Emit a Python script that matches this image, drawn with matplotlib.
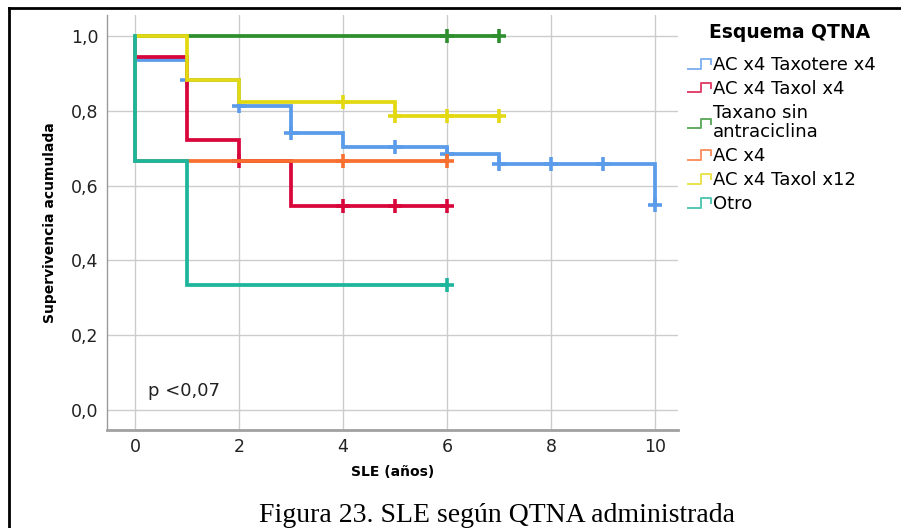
import numpy as np
import matplotlib
matplotlib.use('Agg')
import matplotlib.pyplot as plt
from matplotlib.lines import Line2D
from matplotlib.legend_handler import HandlerBase

plt.rcParams['font.family'] = ['DejaVu Sans']

# Curvas Kaplan-Meier por esquema: tiempos de evento (años) y supervivencia tras cada salto
GRUPOS = ['AC x4 Taxotere x4', 'AC x4 Taxol x4', 'Taxano sin\nantraciclina',
          'AC x4', 'AC x4 Taxol x12', 'Otro']
COLORES = ['#5a9bea', '#d9063c', '#2f8f2f', '#f86f30', '#e3d912', '#1db59c']

t_taxotere = [0, 0, 1, 2, 3, 4, 6, 7, 10]
s_taxotere = [1.0, 0.935, 0.882, 0.812, 0.741, 0.703, 0.684, 0.658, 0.548]
c_taxotere = [1, 2, 3, 5, 6, 7, 8, 9, 10]

t_taxol4 = [0, 0, 1, 2, 3, 6]
s_taxol4 = [1.0, 0.944, 0.722, 0.667, 0.545, 0.545]
c_taxol4 = [2, 4, 5, 6]

t_taxano = [0, 7]
s_taxano = [1.0, 1.0]
c_taxano = [6, 7]

t_ac4 = [0, 0, 6]
s_ac4 = [1.0, 0.667, 0.667]
c_ac4 = [4, 6]

t_taxol12 = [0, 1, 2, 5, 7]
s_taxol12 = [1.0, 0.882, 0.824, 0.786, 0.786]
c_taxol12 = [4, 5, 6, 7]

t_otro = [0, 0, 1, 6]
s_otro = [1.0, 0.667, 0.333, 0.333]
c_otro = [6]

CURVAS = [(t_taxotere, s_taxotere, c_taxotere), (t_taxol4, s_taxol4, c_taxol4),
          (t_taxano, s_taxano, c_taxano), (t_ac4, s_ac4, c_ac4),
          (t_taxol12, s_taxol12, c_taxol12), (t_otro, s_otro, c_otro)]

XTICKS = [0, 2, 4, 6, 8, 10]
YTICKS = [0.0, 0.2, 0.4, 0.6, 0.8, 1.0]


def surv_at(t, s, x):
    idx = np.searchsorted(t, x, side='right') - 1
    return np.asarray(s)[idx]


class StepHandler(HandlerBase):
    # icono de leyenda en forma de escalón, como en SPSS
    def create_artists(self, legend, orig_handle, xdescent, ydescent,
                       width, height, fontsize, trans):
        xs = np.array([0, 0.55, 0.55, 1.0, 1.0]) * width - xdescent
        ys = np.array([0.1, 0.1, 0.85, 0.85, 0.45]) * height - ydescent
        ln = Line2D(xs, ys, color=orig_handle.get_color(), lw=1.4, alpha=0.75,
                    transform=trans)
        return [ln]


fig = plt.figure(figsize=(9.01, 5.28), dpi=100)
ax = fig.add_axes([0.1188, 0.1856, 0.6337, 0.786])

lineas = []
for (t, s, c), col in zip(CURVAS, COLORES):
    ln, = ax.step(t, s, where='post', color=col, lw=2.7, solid_joinstyle='miter')
    ax.plot(c, surv_at(t, s, c), ls='none', marker='+', ms=10, mew=2.6, color=col)
    lineas.append(ln)

ax.set_xlim(-0.54, 10.44)
ax.set_ylim(-0.0535, 1.056)
ax.set_xticks(XTICKS)
ax.set_yticks(YTICKS)
ax.set_yticklabels([f'{v:.1f}'.replace('.', ',') for v in YTICKS])
ax.tick_params(length=0, labelsize=12.5, colors='#222222', pad=6)
ax.grid(color='#cccccc', lw=1)
ax.set_axisbelow(True)
for sp in ['top', 'right']:
    ax.spines[sp].set_visible(False)
ax.spines['left'].set_color('#9a9a9a')
ax.spines['left'].set_linewidth(1)
ax.spines['bottom'].set_color('#a0a0a0')
ax.spines['bottom'].set_linewidth(2)

ax.set_xlabel('SLE (años)', fontsize=10, fontweight='bold', labelpad=6)
ax.set_ylabel('Supervivencia acumulada', fontsize=10, fontweight='bold', labelpad=10)
ax.text(0.25, 0.05, 'p <0,07', fontsize=13, va='center', ha='left',
        color='#222222')

leg = fig.legend(lineas, GRUPOS, handler_map={Line2D: StepHandler()},
                 loc='upper left', bbox_to_anchor=(0.756, 0.908),
                 frameon=False, fontsize=13,
                 handlelength=1.25, handletextpad=0.1, labelspacing=0.33,
                 borderaxespad=0)
for txt in leg.get_texts():
    txt.set_linespacing(1.1)
fig.text(0.876, 1 - 33 / 528, 'Esquema QTNA', fontsize=13.5, fontweight='bold',
         ha='center', va='center')

fig.text(0.552, 0.024, 'Figura 23. SLE según QTNA administrada',
         family='Liberation Serif', fontsize=20, ha='center', va='center')

# marco de la figura
fig.add_artist(Line2D([9 / 901, 1], [1 - 8 / 528] * 2, color='black', lw=2,
                      transform=fig.transFigure))
fig.add_artist(Line2D([9 / 901] * 2, [0, 1 - 8 / 528], color='black', lw=2,
                      transform=fig.transFigure))

fig.savefig('out.png', dpi=100)
